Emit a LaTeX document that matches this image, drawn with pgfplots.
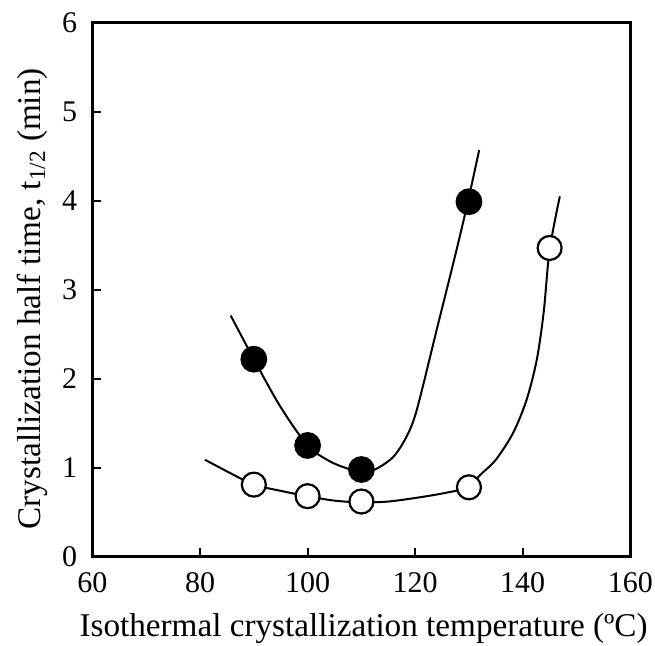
\documentclass[border=0pt]{standalone}
\usepackage{fontspec}
\setmainfont{Liberation Serif}
\usepackage{pgfplots}
\pgfplotsset{compat=1.18}

\begin{document}
\begin{tikzpicture}
\begin{axis}[
    scale only axis,
    width=268.9pt, height=266.9pt,
    xmin=60, xmax=160, ymin=0, ymax=6,
    xtick={60,80,...,160}, ytick={0,1,...,6},
    tick pos=left, tick align=inside,
    major tick length=4.5pt,
    axis line style={line width=1.4pt},
    tick style={line width=1.1pt, black},
    font=\fontsize{15}{18}\selectfont,
    /pgf/number format/assume math mode=true,
    xticklabel style={yshift=-4.5pt},
    yticklabel style={xshift=-4.2pt},
    xlabel={Isothermal crystallization temperature (ºC)},
    ylabel={Crystallization half time, t\textsubscript{1/2} (min)},
    every axis x label/.style={at={(axis description cs:0.504,-0.149)}, anchor=base, font=\fontsize{16.6}{19}\selectfont},
    every axis y label/.style={at={(axis description cs:-0.0976,0.483)}, rotate=90, anchor=base, font=\fontsize{16.6}{19}\selectfont},
    clip=false,
]
% fitted curves
\addplot[black, line width=1pt, smooth] coordinates {
    (85.7,2.71) (90,2.22) (94.9,1.69) (100,1.25) (104.2,1.07) (108,0.98) (110,0.97)
    (112.5,0.98) (115.9,1.12) (118.4,1.35) (120.3,1.65) (124,2.55)
    (127.7,3.45) (129.8,3.99) (131.9,4.57)};
\addplot[black, line width=1pt, smooth] coordinates {
    (80.9,1.09) (85.6,0.94) (90,0.81) (95,0.74) (100,0.68) (105,0.63) (110,0.61)
    (115,0.62) (120,0.66) (125,0.71) (129.8,0.78) (132.1,0.92) (135,1.09)
    (138.2,1.39) (140.7,1.76) (142.6,2.21) (143.9,2.75) (145,3.45) (146.9,4.05)};
% data points
\addplot[only marks, mark=*, mark size=6.2pt, mark options={fill=black, draw=black, line width=1pt}] coordinates {
    (90,2.22) (100,1.25) (110,0.98) (130,3.99)};
\addplot[only marks, mark=*, mark size=6pt, mark options={fill=white, draw=black, line width=1.1pt}] coordinates {
    (90,0.81) (100,0.68) (110,0.62) (130,0.78) (145,3.47)};
\end{axis}
\pgfresetboundingbox
\path ([shift={(-46.25pt,-44.65pt)}]current axis.south west) rectangle ([shift={(281.25pt,278.35pt)}]current axis.south west);
\end{tikzpicture}
\end{document}
